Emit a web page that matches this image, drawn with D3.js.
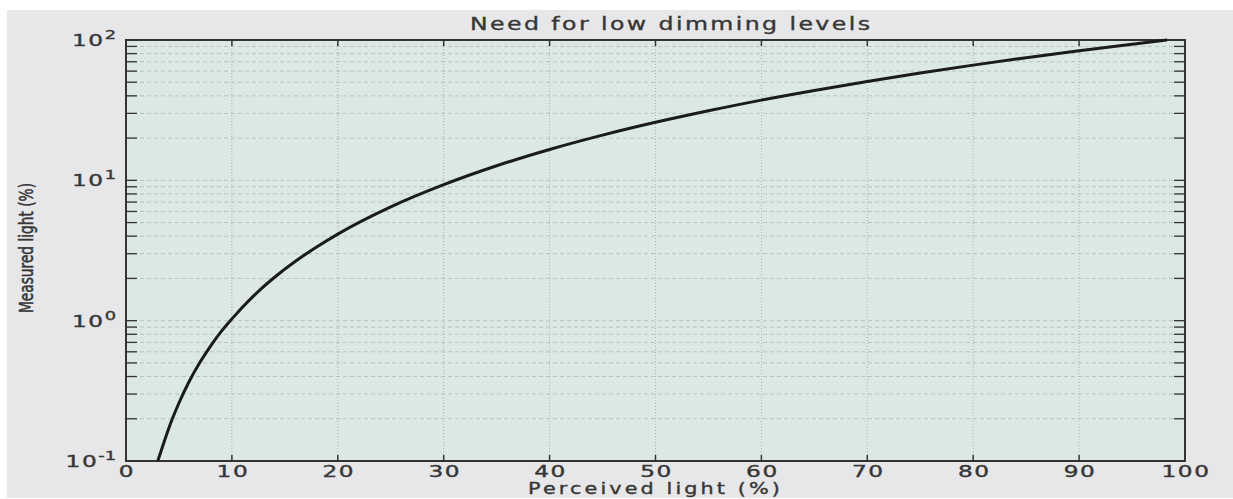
<!DOCTYPE html>
<html><head><meta charset="utf-8">
<script src="https://cdn.jsdelivr.net/npm/d3@7"></script>
<style>
html,body{margin:0;padding:0;background:#fff;}
svg{display:block;}
text{font-family:"DejaVu Sans",sans-serif;fill:#363636;stroke:#363636;stroke-width:0.35px;}
</style></head>
<body>
<svg id="chart" width="1233" height="499"></svg>
<script>
// ---- data ----
const perceived = [3.0, 3.5, 4, 5, 6, 7, 8, 9, 10, 12, 14, 16, 18, 20, 25, 30, 35, 40, 45, 50, 55, 60, 65, 70, 75, 80, 85, 90, 95, 98.3];
const measured  = [0.1, 0.13, 0.168, 0.259, 0.373, 0.507, 0.662, 0.838, 1.03, 1.49, 2.03, 2.65, 3.35, 4.14, 6.47, 9.31, 12.7, 16.6, 21.0, 25.9, 31.3, 37.3, 43.7, 50.7, 58.2, 66.2, 74.8, 83.8, 93.4, 100];
const xTicks = [0, 10, 20, 30, 40, 50, 60, 70, 80, 90, 100];
const yDecades = [-1, 0, 1, 2];
const titleText = "Need for low dimming levels";
const xLabelText = "Perceived light (%)";
const yLabelText = "Measured light (%)";

const svg = d3.select("#chart");
const W = 1233, H = 499;
const L = 126, R = 1185, T = 40, B = 461;
const SX = 1.55; // horizontal stretch of the lettering in the reference

// outer gray panel
svg.append("rect").attr("x", 7).attr("y", 10).attr("width", W - 7).attr("height", 488).attr("fill", "#e7e7e9");

const x = d3.scaleLinear().domain([0, 100]).range([L, R]);
const y = d3.scaleLog().domain([0.1, 100]).range([B, T]);

// plot background
svg.append("rect").attr("x", L).attr("y", T).attr("width", R - L).attr("height", B - T).attr("fill", "#dce8e5");

// minor/major log values
const logVals = [];
for (let e = -1; e < 2; e++) for (let k = 1; k < 10; k++) logVals.push(k * Math.pow(10, e));
logVals.push(100);
const inner = logVals.filter(v => v > 0.1 && v < 100);

// horizontal dashed gridlines
svg.append("g").selectAll("line").data(inner).join("line")
  .attr("x1", L).attr("x2", R).attr("y1", d => y(d)).attr("y2", d => y(d))
  .attr("stroke", "#b9c2c0").attr("stroke-width", 1).attr("stroke-dasharray", "4,3");

// vertical dotted gridlines
svg.append("g").selectAll("line").data(xTicks.filter(v => v > 0 && v < 100)).join("line")
  .attr("x1", d => x(d)).attr("x2", d => x(d)).attr("y1", T).attr("y2", B)
  .attr("stroke", "#aab3b1").attr("stroke-width", 1).attr("stroke-dasharray", "1,2");

// y ticks (left & right, inward)
const yt = svg.append("g");
yt.selectAll("line.l").data(inner).join("line").attr("class", "l")
  .attr("x1", L).attr("x2", L + 11).attr("y1", d => y(d)).attr("y2", d => y(d))
  .attr("stroke", "#333").attr("stroke-width", 1.3);
yt.selectAll("line.r").data(inner).join("line").attr("class", "r")
  .attr("x1", R).attr("x2", R - 11).attr("y1", d => y(d)).attr("y2", d => y(d))
  .attr("stroke", "#333").attr("stroke-width", 1.3);

// x ticks (top & bottom, inward)
const xt = svg.append("g");
xt.selectAll("line.b").data(xTicks.filter(v => v > 0 && v < 100)).join("line").attr("class", "b")
  .attr("x1", d => x(d)).attr("x2", d => x(d)).attr("y1", B).attr("y2", B - 6)
  .attr("stroke", "#333").attr("stroke-width", 1.5);
xt.selectAll("line.t").data(xTicks.filter(v => v > 0 && v < 100)).join("line").attr("class", "t")
  .attr("x1", d => x(d)).attr("x2", d => x(d)).attr("y1", T).attr("y2", T + 6)
  .attr("stroke", "#333").attr("stroke-width", 1.5);

// frame
svg.append("rect").attr("x", L).attr("y", T).attr("width", R - L).attr("height", B - T)
  .attr("fill", "none").attr("stroke", "#333").attr("stroke-width", 2);

// curve
const pts = perceived.map((p, i) => [p, measured[i]]);
svg.append("path").datum(pts)
  .attr("d", d3.line().x(d => x(d[0])).y(d => y(d[1])).curve(d3.curveMonotoneX))
  .attr("fill", "none").attr("stroke", "#1b1b1b").attr("stroke-width", 3);

// x tick labels
svg.append("g").selectAll("text").data(xTicks).join("text")
  .attr("transform", d => `translate(${x(d) + 1},477) scale(${SX},1)`).attr("text-anchor", "middle")
  .attr("font-size", 15).attr("letter-spacing", 1).text(d => d);

// y tick labels
const yl = svg.append("g").selectAll("text").data(yDecades).join("text")
  .attr("transform", d => `translate(116,${y(Math.pow(10, d)) + 6}) scale(${SX},1)`).attr("text-anchor", "end")
  .attr("font-size", 15);
yl.append("tspan").attr("letter-spacing", 1).text("10");
yl.append("tspan").attr("font-size", 11.5).attr("dy", -7).text(d => String(d));

// title
svg.append("text").attr("transform", `translate(670,30) scale(1.35,1)`).attr("text-anchor", "middle")
  .attr("font-size", 17.5).attr("textLength", 400 / 1.35).attr("lengthAdjust", "spacing").text(titleText);

// x label
svg.append("text").attr("transform", `translate(654,494) scale(1.3,1)`).attr("text-anchor", "middle")
  .attr("font-size", 16).attr("textLength", 252 / 1.3).attr("lengthAdjust", "spacing").text(xLabelText);

// y label
svg.append("text").attr("transform", `translate(33,248) scale(${SX},1) rotate(-90)`).attr("text-anchor", "middle")
  .attr("font-size", 13).attr("textLength", 130).attr("lengthAdjust", "spacingAndGlyphs").text(yLabelText);
</script>
</body></html>
